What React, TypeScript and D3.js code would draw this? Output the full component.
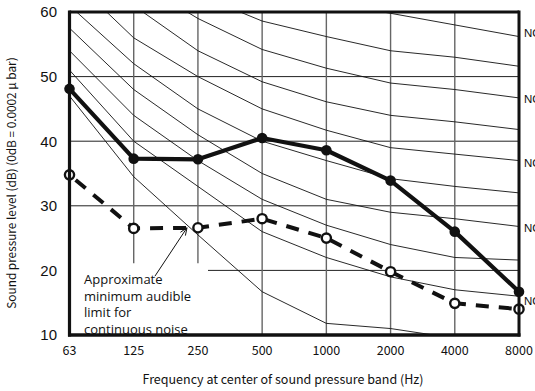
import React from "react";
import * as d3 from "d3";

const freqs = ["63", "125", "250", "500", "1000", "2000", "4000", "8000"];
const yTicks = [10, 20, 30, 40, 50, 60];

const measured = [48.1, 37.3, 37.2, 40.5, 38.6, 33.9, 26.0, 16.7];
const minAudible = [34.8, 26.5, 26.6, 28.0, 25.0, 19.8, 14.9, 14.0];

const nc15 = [47, 34.5, 25.5, 16.7, 11.8, 11, 9.5, 9];
const nc20 = [51, 40, 33, 26, 22, 19, 17, 16];
const nc25 = [54, 44, 37, 31, 27, 24, 22, 21.6];
const nc30 = [57.5, 48, 41, 35, 31, 29, 28, 26.8];
const nc35 = [61, 52, 45, 40, 37, 34.2, 33, 32];
const nc40 = [65.5, 56, 50, 45, 41.7, 39, 38, 37];
const nc45 = [67, 61, 54, 49.2, 46.1, 44, 43, 41.8];
const nc50 = [71, 65, 59, 54.2, 51.3, 49, 48, 46.7];
const nc55 = [74, 67, 62.7, 58.6, 56.2, 54, 53, 51.6];
const nc60 = [77, 71, 67, 63, 61.5, 59.8, 58, 56.2];
const ncCurves = [nc15, nc20, nc25, nc30, nc35, nc40, nc45, nc50, nc55, nc60];

const ncLabels = ["NC-60", "NC-50", "NC-40", "NC-30", "NC-20"];
const ncLabelLevels = [56.8, 46.6, 36.7, 26.5, 15.3];

const noteLines = ["Approximate", "minimum audible", "limit for", "continuous noise"];

const W = 535;
const H = 391;
const left = 69.5;
const right = 519;
const top = 12;
const bottom = 335;

export default function App() {
  const x = d3.scalePoint<string>().domain(freqs).range([left, right]);
  const y = d3.scaleLinear().domain([10, 60]).range([bottom, top]);
  const xi = (i: number) => left + (i * (right - left)) / (freqs.length - 1);

  const line = d3
    .line<number>()
    .x((_, i) => x(freqs[i]) as number)
    .y((d) => y(d));

  const fullV = ["500", "1000", "2000", "4000"];
  const stubV = ["125", "250"];
  const stubLevel = 21.1;

  // arrow (data coords: band index, level)
  const arrowTail = [1.33, 19.1];
  const arrowTip = [1.83, 26.6];
  const ax1 = xi(arrowTail[0]), ay1 = y(arrowTail[1]);
  const ax2 = xi(arrowTip[0]), ay2 = y(arrowTip[1]);
  const ang = Math.atan2(ay2 - ay1, ax2 - ax1);
  const hl = 8, ha = 0.38;
  const h1 = [ax2 - hl * Math.cos(ang - ha), ay2 - hl * Math.sin(ang - ha)];
  const h2 = [ax2 - hl * Math.cos(ang + ha), ay2 - hl * Math.sin(ang + ha)];

  return (
    <svg
      width={W}
      height={H}
      style={{ position: "absolute", left: 0, top: 0, background: "#fff" }}
    >
      <defs>
        <clipPath id="plot">
          <rect x={left} y={top} width={right - left} height={bottom - top} />
        </clipPath>
      </defs>
      <rect width={W} height={H} fill="#fff" />

      {/* horizontal gridlines */}
      {[30, 40, 50].map((v) => (
        <line key={v} x1={left} x2={right} y1={y(v)} y2={y(v)} stroke="#222" strokeWidth={1} />
      ))}
      <line x1={208} x2={right} y1={y(20)} y2={y(20)} stroke="#222" strokeWidth={1} />

      {/* vertical gridlines */}
      {fullV.map((f) => (
        <line key={f} x1={x(f)} x2={x(f)} y1={top} y2={bottom} stroke="#666" strokeWidth={1.4} />
      ))}
      {stubV.map((f) => (
        <line key={f} x1={x(f)} x2={x(f)} y1={top} y2={y(stubLevel)} stroke="#666" strokeWidth={1.4} />
      ))}

      {/* NC curves */}
      <g clipPath="url(#plot)">
        {ncCurves.map((c, i) => (
          <path key={i} d={line(c) || ""} fill="none" stroke="#111" strokeWidth={0.9} />
        ))}
      </g>

      {/* NC labels */}
      {ncLabels.map((t, i) => (
        <text
          key={t}
          x={524}
          y={y(ncLabelLevels[i])}
          dy="0.35em"
          fontFamily="Liberation Sans, Arial, sans-serif"
          fontSize={11.5}
          fill="#111"
        >
          {t}
        </text>
      ))}

      {/* minimum audible (dashed) */}
      <path
        d={line(minAudible) || ""}
        fill="none"
        stroke="#111"
        strokeWidth={4}
        strokeDasharray="13 10"
        strokeDashoffset={-8}
      />
      {minAudible.map((v, i) => (
        <circle key={i} cx={x(freqs[i])} cy={y(v)} r={4.6} fill="#fff" stroke="#111" strokeWidth={2.4} />
      ))}

      {/* measured */}
      <path d={line(measured) || ""} fill="none" stroke="#111" strokeWidth={4.2} strokeLinejoin="round" />
      {measured.map((v, i) => (
        <circle key={i} cx={x(freqs[i])} cy={y(v)} r={5.3} fill="#111" />
      ))}

      {/* annotation */}
      {noteLines.map((t, i) => (
        <text
          key={t}
          x={84}
          y={284 + i * 16.7}
          fontFamily="Open Sans, sans-serif"
          fontSize={13}
          fill="#111"
        >
          {t}
        </text>
      ))}
      <line x1={ax1} y1={ay1} x2={ax2} y2={ay2} stroke="#111" strokeWidth={1} />
      <polyline
        points={`${h1[0]},${h1[1]} ${ax2},${ay2} ${h2[0]},${h2[1]}`}
        fill="none"
        stroke="#111"
        strokeWidth={1}
      />

      {/* frame */}
      <line x1={left} x2={right} y1={top} y2={top} stroke="#111" strokeWidth={3} />
      <line x1={right} x2={right} y1={top - 1.5} y2={bottom + 1.5} stroke="#111" strokeWidth={3} />
      <line x1={left} x2={left} y1={top - 1.5} y2={bottom + 1.5} stroke="#111" strokeWidth={3.2} />
      <line x1={left - 1.5} x2={right + 1.5} y1={bottom} y2={bottom} stroke="#111" strokeWidth={3.6} />

      {/* y tick labels */}
      {yTicks.map((v) => (
        <text
          key={v}
          x={57}
          y={y(v)}
          dy="0.36em"
          textAnchor="end"
          fontFamily="Liberation Sans, Arial, sans-serif"
          fontSize={15}
          fill="#111"
        >
          {v}
        </text>
      ))}

      {/* x tick labels */}
      {freqs.map((f) => (
        <text
          key={f}
          x={x(f)}
          y={355}
          textAnchor="middle"
          fontFamily="Noto Sans CJK JP, sans-serif"
          fontSize={12.5}
          fill="#111"
        >
          {f}
        </text>
      ))}

      {/* axis titles */}
      <text
        x={283}
        y={384}
        textAnchor="middle"
        fontFamily="Noto Sans CJK JP, sans-serif"
        fontSize={12.5}
        fill="#111"
      >
        Frequency at center of sound pressure band (Hz)
      </text>
      <text
        transform="translate(16,183) rotate(-90)"
        textAnchor="middle"
        fontFamily="Noto Sans CJK JP, sans-serif"
        fontSize={11.8}
        fill="#111"
      >
        Sound pressure level (dB) (0dB = 0.0002 μ bar)
      </text>
    </svg>
  );
}
